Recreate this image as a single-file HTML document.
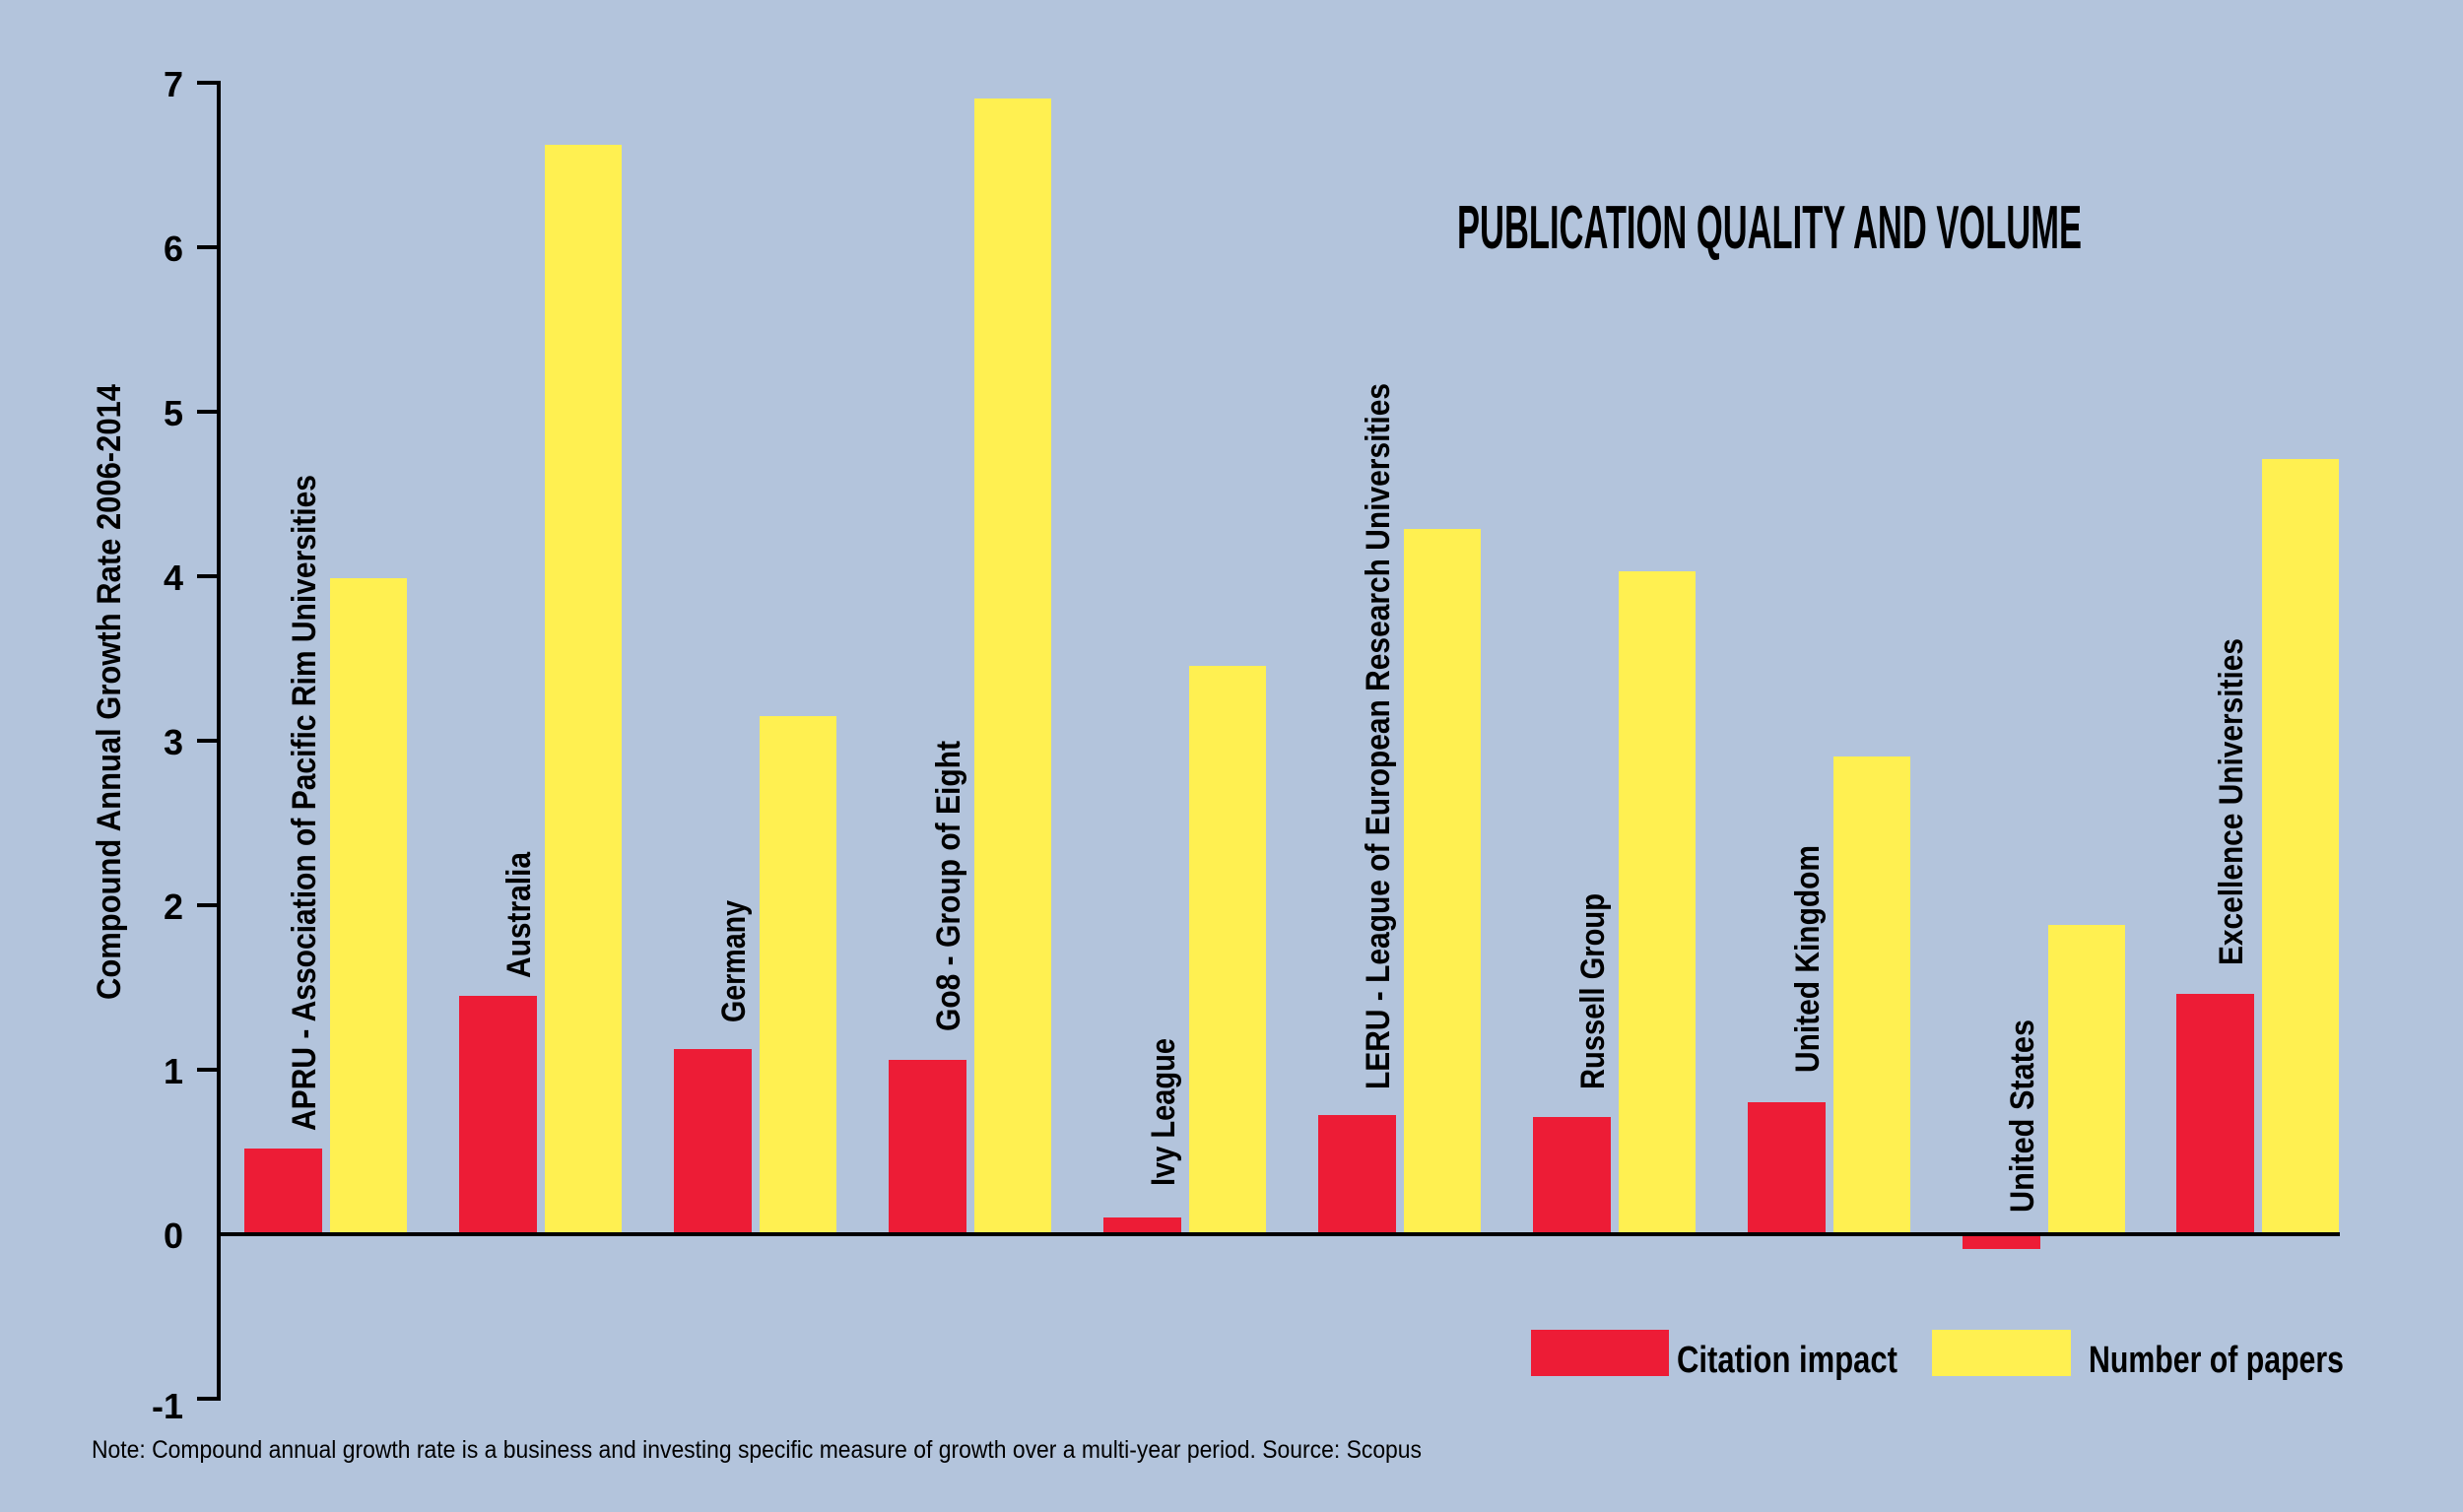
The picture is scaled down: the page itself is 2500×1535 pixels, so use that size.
<!DOCTYPE html>
<html><head><meta charset="utf-8"><style>
html,body{margin:0;padding:0;background:#b3c4dc;}
svg{display:block}
text{font-family:"Liberation Sans Narrow","Liberation Sans",sans-serif;font-weight:bold;fill:#000}
</style></head><body>
<svg width="2500" height="1535" viewBox="0 0 2500 1535" xmlns="http://www.w3.org/2000/svg">
<rect width="2500" height="1535" fill="#b3c4dc"/>
<g fill="#ed1c36">
<rect x="248" y="1166" width="79" height="87"/>
<rect x="466" y="1011" width="79" height="242"/>
<rect x="684" y="1065" width="79" height="188"/>
<rect x="902" y="1076" width="79" height="177"/>
<rect x="1120" y="1236" width="79" height="17"/>
<rect x="1338" y="1132" width="79" height="121"/>
<rect x="1556" y="1134" width="79" height="119"/>
<rect x="1774" y="1119" width="79" height="134"/>
<rect x="1992" y="1253" width="79" height="15"/>
<rect x="2209" y="1009" width="79" height="244"/>
</g>
<g fill="#fff051">
<rect x="335" y="587" width="78" height="666"/>
<rect x="553" y="147" width="78" height="1106"/>
<rect x="771" y="727" width="78" height="526"/>
<rect x="989" y="100" width="78" height="1153"/>
<rect x="1207" y="676" width="78" height="577"/>
<rect x="1425" y="537" width="78" height="716"/>
<rect x="1643" y="580" width="78" height="673"/>
<rect x="1861" y="768" width="78" height="485"/>
<rect x="2079" y="939" width="78" height="314"/>
<rect x="2296" y="466" width="78" height="787"/>
</g>
<g stroke="#000" stroke-width="4" fill="none">
<line x1="222" y1="82" x2="222" y2="1422"/>
<line x1="220" y1="1253" x2="2375" y2="1253"/>
<line x1="200" y1="84" x2="222" y2="84"/>
<line x1="200" y1="251" x2="222" y2="251"/>
<line x1="200" y1="418" x2="222" y2="418"/>
<line x1="200" y1="585" x2="222" y2="585"/>
<line x1="200" y1="752" x2="222" y2="752"/>
<line x1="200" y1="919" x2="222" y2="919"/>
<line x1="200" y1="1086" x2="222" y2="1086"/>
<line x1="200" y1="1420" x2="222" y2="1420"/>
</g>
<g font-size="36" text-anchor="end">
<text x="186" y="98">7</text>
<text x="186" y="265">6</text>
<text x="186" y="432">5</text>
<text x="186" y="599">4</text>
<text x="186" y="766">3</text>
<text x="186" y="933">2</text>
<text x="186" y="1100">1</text>
<text x="186" y="1267">0</text>
<text x="186" y="1440">-1</text>
</g>
<text transform="translate(122,1015) rotate(-90)" font-size="34" textLength="625" lengthAdjust="spacingAndGlyphs">Compound Annual Growth Rate 2006-2014</text>
<g font-size="34">
<text transform="translate(320,1148) rotate(-90)" textLength="666" lengthAdjust="spacingAndGlyphs">APRU - Association of Pacific Rim Universities</text>
<text transform="translate(538,993) rotate(-90)" textLength="128" lengthAdjust="spacingAndGlyphs">Australia</text>
<text transform="translate(756,1038) rotate(-90)" textLength="124" lengthAdjust="spacingAndGlyphs">Germany</text>
<text transform="translate(974,1047) rotate(-90)" textLength="295" lengthAdjust="spacingAndGlyphs">Go8 - Group of Eight</text>
<text transform="translate(1192,1204) rotate(-90)" textLength="150" lengthAdjust="spacingAndGlyphs">Ivy League</text>
<text transform="translate(1410,1106) rotate(-90)" textLength="717" lengthAdjust="spacingAndGlyphs">LERU - League of European Research Universities</text>
<text transform="translate(1628,1106) rotate(-90)" textLength="199" lengthAdjust="spacingAndGlyphs">Russell Group</text>
<text transform="translate(1846,1089) rotate(-90)" textLength="231" lengthAdjust="spacingAndGlyphs">United Kingdom</text>
<text transform="translate(2064,1231) rotate(-90)" textLength="196" lengthAdjust="spacingAndGlyphs">United States</text>
<text transform="translate(2276,980) rotate(-90)" textLength="332" lengthAdjust="spacingAndGlyphs">Excellence Universities</text>
</g>
<text x="1479" y="252" font-size="62" textLength="634" lengthAdjust="spacingAndGlyphs">PUBLICATION QUALITY AND VOLUME</text>
<rect x="1554" y="1350" width="140" height="47" fill="#ed1c36"/>
<text x="1702" y="1393" font-size="38" textLength="224" lengthAdjust="spacingAndGlyphs">Citation impact</text>
<rect x="1961" y="1350" width="141" height="47" fill="#fff051"/>
<text x="2120" y="1393" font-size="38" textLength="259" lengthAdjust="spacingAndGlyphs">Number of papers</text>
<text x="93" y="1480" font-size="25" style="font-weight:normal" textLength="1350" lengthAdjust="spacingAndGlyphs">Note: Compound annual growth rate is a business and investing specific measure of growth over a multi-year period. Source: Scopus</text>
</svg>
</body></html>
